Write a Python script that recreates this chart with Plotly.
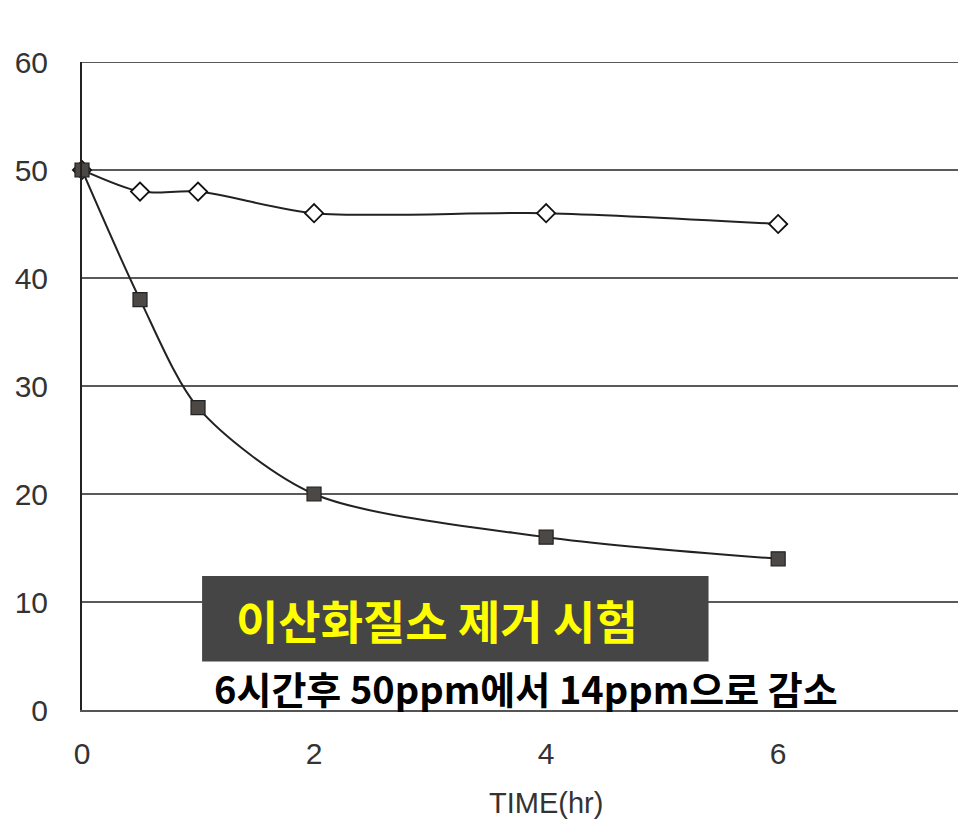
import plotly.graph_objects as go

time_hr = [0, 0.5, 1, 2, 4, 6]
control_ppm = [50, 48, 48, 46, 46, 45]
treated_ppm = [50, 38, 28, 20, 16, 14]
x_ticks = [0, 2, 4, 6]
y_ticks = [0, 10, 20, 30, 40, 50, 60]
title_text = "이산화질소 제거 시험"
sub_text = "6시간후 50ppm에서 14ppm으로 감소"

fig = go.Figure()
fig.add_trace(go.Scatter(
    x=time_hr, y=control_ppm, mode="lines+markers",
    line=dict(color="#222222", width=2, shape="spline", smoothing=0.8),
    marker=dict(symbol="diamond", size=14, color="white",
                line=dict(color="#111111", width=1.8)),
    cliponaxis=False, showlegend=False))
fig.add_trace(go.Scatter(
    x=time_hr, y=treated_ppm, mode="lines+markers",
    line=dict(color="#222222", width=2, shape="spline", smoothing=0.8),
    marker=dict(symbol="square", size=14, color="#4b4845",
                line=dict(color="#222222", width=1.2)),
    cliponaxis=False, showlegend=False))

fig.add_shape(type="line", xref="paper", yref="y", x0=0, x1=1, y0=60, y1=60,
              line=dict(color="#5a5a5a", width=2), layer="below")
fig.add_shape(type="rect", xref="x", yref="y", x0=1.035, x1=5.4, y0=4.5, y1=12.4,
              fillcolor="#454545", line=dict(width=0), layer="above")
fig.add_annotation(x=3.06, y=8.4, xref="x", yref="y", text=title_text, showarrow=False,
                   font=dict(family="Noto Sans CJK KR", size=46, color="#ffff00", weight="bold"))
fig.add_annotation(x=3.83, y=2.1, xref="x", yref="y", text=sub_text, showarrow=False,
                   font=dict(family="Noto Sans CJK KR", size=38, color="#000000", weight="bold"))
fig.add_annotation(x=4, y=(710 - 803) / 648, xref="x", yref="paper", yanchor="middle",
                   text="TIME(hr)", showarrow=False,
                   font=dict(family="Liberation Sans", size=29, color="#333333"))

fig.update_layout(
    width=958, height=838,
    margin=dict(l=82, r=0, t=62, b=128),
    paper_bgcolor="white", plot_bgcolor="white",
    font=dict(family="Liberation Sans", size=30, color="#333333"),
    xaxis=dict(range=[0, 7.55], tickvals=x_ticks, showgrid=False, zeroline=False,
               showline=True, linecolor="#555555", linewidth=2,
               ticks="", ticklabelstandoff=16),
    yaxis=dict(range=[0, 60], tickvals=y_ticks, showgrid=True, gridcolor="#5a5a5a",
               gridwidth=2, zeroline=False, showline=True, linecolor="#222222",
               linewidth=2, ticks="", ticklabelstandoff=26),
)
fig.write_html("out.html", config={"displayModeBar": False},
               post_script="document.body.style.margin='0';")
